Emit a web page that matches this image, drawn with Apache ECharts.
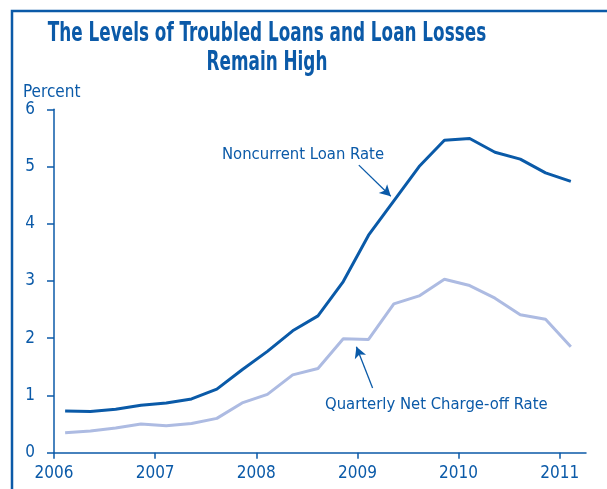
<!DOCTYPE html>
<html><head><meta charset="utf-8">
<script src="https://cdn.jsdelivr.net/npm/echarts@6/dist/echarts.min.js"></script>
<style>html,body{margin:0;padding:0;background:#fff;}#c{width:607px;height:489px;}</style>
</head><body><div id="c"></div>
<script>
const quarterPositions = [2006.11,2006.36,2006.61,2006.86,2007.11,2007.36,2007.61,2007.86,2008.11,2008.36,2008.61,2008.86,2009.11,2009.36,2009.61,2009.86,2010.11,2010.36,2010.61,2010.86,2011.11];
const noncurrentRate = [0.73,0.72,0.76,0.83,0.87,0.94,1.11,1.45,1.77,2.13,2.39,2.99,3.80,4.40,5.00,5.46,5.49,5.25,5.13,4.89,4.74];
const chargeOffRate = [0.35,0.38,0.43,0.50,0.47,0.51,0.60,0.87,1.02,1.36,1.47,1.99,1.98,2.60,2.74,3.03,2.92,2.70,2.41,2.33,1.85];
const yearTicks = [2006,2007,2008,2009,2010,2011];
const titleLines = ['The Levels of Troubled Loans and Loan Losses','Remain High'];

const FONT = '"Liberation Sans Narrow","DejaVu Sans Condensed","Roboto Condensed",sans-serif';
const BLUE = '#0b5aa8';
const DARK = '#0a5aa8';
const LIGHT = '#adbbe2';

const chart = echarts.init(document.getElementById('c'), null, {renderer:'canvas'});
chart.setOption({
  animation:false,
  backgroundColor:'#fff',
  grid:{left:54,right:21,top:109.3,bottom:36.3,containLabel:false},
  xAxis:{type:'value',min:2006,max:2011.26,interval:1,
    axisLine:{show:true,lineStyle:{color:BLUE,width:1.5}},
    axisTick:{show:true,inside:false,length:6,lineStyle:{color:BLUE,width:1.5},customValues:yearTicks},
    axisLabel:{color:BLUE,fontFamily:FONT,fontSize:17,margin:12,customValues:yearTicks,formatter:v=>String(Math.round(v))},
    splitLine:{show:false}},
  yAxis:{type:'value',min:0,max:6,interval:1,
    name:'Percent',nameLocation:'end',nameGap:0,
    nameTextStyle:{color:BLUE,fontFamily:FONT,fontSize:17,align:'left',verticalAlign:'bottom',padding:[0,0,7,-31]},
    axisLine:{show:true,lineStyle:{color:BLUE,width:1.5}},
    axisTick:{show:true,inside:false,length:7,lineStyle:{color:BLUE,width:1.5}},
    axisLabel:{color:BLUE,fontFamily:FONT,fontSize:17,margin:19},
    splitLine:{show:false}},
  series:[
    {name:'Quarterly Net Charge-off Rate',type:'line',symbol:'none',
      data:quarterPositions.map((x,i)=>[x,chargeOffRate[i]]),
      lineStyle:{color:LIGHT,width:3},z:2},
    {name:'Noncurrent Loan Rate',type:'line',symbol:'none',
      data:quarterPositions.map((x,i)=>[x,noncurrentRate[i]]),
      lineStyle:{color:DARK,width:3},z:3,
      markLine:{silent:true,symbol:['none','arrow'],symbolSize:[9,11],
        lineStyle:{color:DARK,width:1.3,type:'solid'},label:{show:false},
        data:[
          [{coord:[2009.014,5.025]},{coord:[2009.33,4.48]}],
          [{coord:[2009.15,1.13]},{coord:[2008.99,1.85]}]
        ]}}
  ],
  graphic:[
    {type:'rect',shape:{x:12,y:11,width:600,height:500},style:{fill:'none',stroke:BLUE,lineWidth:2.5},silent:true},
    {type:'text',x:267,y:20,scaleX:0.72,style:{text:titleLines.join('\n'),align:'center',verticalAlign:'top',fill:BLUE,font:'bold 26px '+FONT,lineHeight:29},silent:true},
    {type:'text',x:222,y:146,style:{text:'Noncurrent Loan Rate',fill:BLUE,font:'16.5px '+FONT},silent:true},
    {type:'text',x:325,y:396,style:{text:'Quarterly Net Charge-off Rate',fill:BLUE,font:'16.5px '+FONT},silent:true}
  ]
});
</script></body></html>
